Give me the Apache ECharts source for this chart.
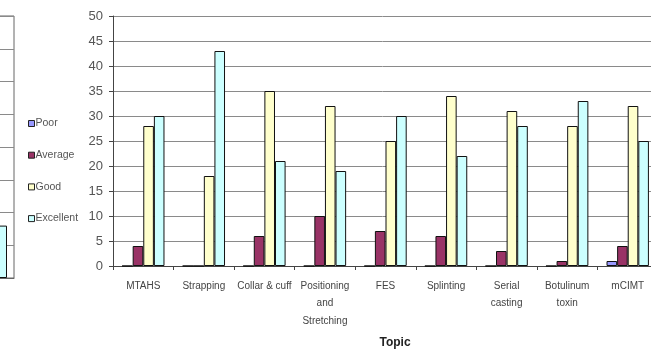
<!DOCTYPE html>
<html>
<head>
<meta charset="utf-8">
<script src="https://cdn.jsdelivr.net/npm/echarts@6/dist/echarts.min.js"></script>
<style>
  html, body { margin: 0; padding: 0; background: #fff; }
  #chart { width: 651px; height: 351px; }
</style>
</head>
<body>
<div id="chart"></div>
<script>
// Topic categories (x axis)
const topics = ['MTAHS', 'Strapping', 'Collar & cuff', 'Positioning\nand\nStretching', 'FES', 'Splinting', 'Serial\ncasting', 'Botulinum\ntoxin', 'mCIMT'];

// Rating counts per topic
const poor      = [0, 0, 0, 0, 0, 0, 0, 0, 1];
const average   = [4, 0, 6, 10, 7, 6, 3, 1, 4];
const good      = [28, 18, 35, 32, 25, 34, 31, 28, 32];
const excellent = [30, 43, 21, 19, 30, 22, 28, 33, 25];

// Value axis ticks
const yMin = 0, yMax = 50, yStep = 5;

// Neighbouring panel at the left edge (only its last bar shows)
const sideCategories = [''];
const sideExcellent = [8];
const sideMax = 40, sideStep = 5;

const seriesNames = ['Poor', 'Average', 'Good', 'Excellent'];
const seriesColors = ['#9999FF', '#993366', '#FFFFCC', '#CCFFFF'];
const seriesData = [poor, average, good, excellent];

const chart = echarts.init(document.getElementById('chart'), null, { renderer: 'canvas' });

const mainSeries = seriesNames.map((name, i) => ({
  name: name,
  type: 'bar',
  xAxisIndex: 0,
  yAxisIndex: 0,
  data: seriesData[i],
  barGap: '0%',
  barCategoryGap: '30%',
  itemStyle: { color: seriesColors[i], borderColor: '#111', borderWidth: 1 },
  emphasis: { disabled: true }
}));

const option = {
  animation: false,
  backgroundColor: '#fff',
  textStyle: { fontFamily: 'Liberation Sans, Arial, sans-serif' },
  legend: {
    orient: 'vertical',
    left: 23,
    top: 113,
    itemWidth: 6,
    itemHeight: 6,
    itemGap: 20.7,
    icon: 'rect',
    data: seriesNames.map((n, i) => ({
      name: n,
      itemStyle: { color: seriesColors[i], borderColor: '#222', borderWidth: 1 }
    })),
    textStyle: { fontSize: 10.5, color: '#555', padding: [0, 0, 0, -4] }
  },
  grid: [
    { left: 113, top: 16, width: 545, height: 250, outerBoundsMode: 'none' },
    { left: -17, top: 16, width: 31, height: 262, outerBoundsMode: 'none', show: true, borderColor: '#666', borderWidth: 1, backgroundColor: 'transparent' }
  ],
  xAxis: [
    {
      type: 'category',
      gridIndex: 0,
      data: topics,
      axisLine: { lineStyle: { color: '#444', width: 1 } },
      axisTick: { show: true, length: 4, lineStyle: { color: '#444' } },
      axisLabel: { fontSize: 10, color: '#444', lineHeight: 17.5, margin: 11, interval: 0 },
      name: 'Topic',
      nameLocation: 'middle',
      nameGap: 71,
      nameTextStyle: { fontSize: 12, fontWeight: 'bold', color: '#222', padding: [0, 0, 0, 19] }
    },
    {
      type: 'category',
      gridIndex: 1,
      data: sideCategories,
      axisLine: { show: true, lineStyle: { color: '#666' } },
      axisTick: { show: false },
      axisLabel: { show: false }
    }
  ],
  yAxis: [
    {
      type: 'value',
      gridIndex: 0,
      min: yMin,
      max: yMax,
      interval: yStep,
      axisLine: { show: true, lineStyle: { color: '#444', width: 1 } },
      axisTick: { show: true, length: 4, lineStyle: { color: '#444' } },
      axisLabel: { fontSize: 13, color: '#555', margin: 10 },
      splitLine: { show: true, lineStyle: { color: '#8a8a8a', width: 1 } }
    },
    {
      type: 'value',
      gridIndex: 1,
      min: 0,
      max: sideMax,
      interval: sideStep,
      axisLine: { show: false },
      axisTick: { show: false },
      axisLabel: { show: false },
      splitLine: { show: true, lineStyle: { color: '#8a8a8a', width: 1 } }
    }
  ],
  series: mainSeries.concat([{
    name: 'Excellent',
    type: 'bar',
    xAxisIndex: 1,
    yAxisIndex: 1,
    data: sideExcellent,
    barWidth: 17,
    itemStyle: { color: '#CCFFFF', borderColor: '#111', borderWidth: 1 },
    emphasis: { disabled: true }
  }])
};

chart.setOption(option);
</script>
</body>
</html>
